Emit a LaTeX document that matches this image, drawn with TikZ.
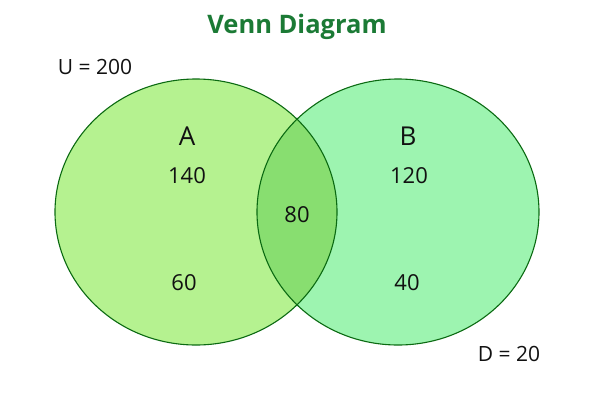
\documentclass[tikz,border=0pt]{standalone}
\usepackage{fontspec}
\setmainfont{Open Sans}
\definecolor{afill}{HTML}{B5F290}
\definecolor{bfill}{HTML}{9DF4B0}
\definecolor{abfill}{HTML}{88DE70}
\definecolor{edge}{HTML}{0B6A12}
\definecolor{titlec}{HTML}{1B7A35}
\definecolor{txt}{HTML}{111111}
\begin{document}
\begin{tikzpicture}[x=1pt,y=-1pt,
  setshape/.style={line width=1.1pt, draw=edge},
  lbl/.style={font=\fontsize{21}{23}\selectfont, text=txt, inner sep=0pt},
  num/.style={font=\fontsize{22}{24}\selectfont, text=txt, inner sep=0pt},
  setname/.style={font=\fontsize{26}{28}\selectfont, text=txt, inner sep=0pt}]
\useasboundingbox (0,0) rectangle (600,400);
% fills
\fill[afill] (196,212) ellipse [x radius=141, y radius=133];
\fill[bfill] (398,212) ellipse [x radius=141, y radius=133];
\begin{scope}
  \clip (196,212) ellipse [x radius=141, y radius=133];
  \fill[abfill] (398,212) ellipse [x radius=141, y radius=133];
\end{scope}
% outlines
\draw[setshape] (196,212) ellipse [x radius=141, y radius=133];
\draw[setshape] (398,212) ellipse [x radius=141, y radius=133];
% texts
\node[font=\fontsize{25.5}{28}\selectfont\bfseries, text=titlec, inner sep=0pt] (title) at (297,27) {Venn Diagram};
\node[lbl] (u) at (95,67) {U = 200};
\node[setname] (a) at (187,136) {A};
\node[setname] (b) at (408,136) {B};
\node[num] (n140) at (187,176) {140};
\node[num] (n120) at (409,176) {120};
\node[num] (n80) at (297,215) {80};
\node[num] (n60) at (184,283) {60};
\node[num] (n40) at (407,283) {40};
\node[lbl] (d) at (509,354) {D = 20};
\end{tikzpicture}
\end{document}
